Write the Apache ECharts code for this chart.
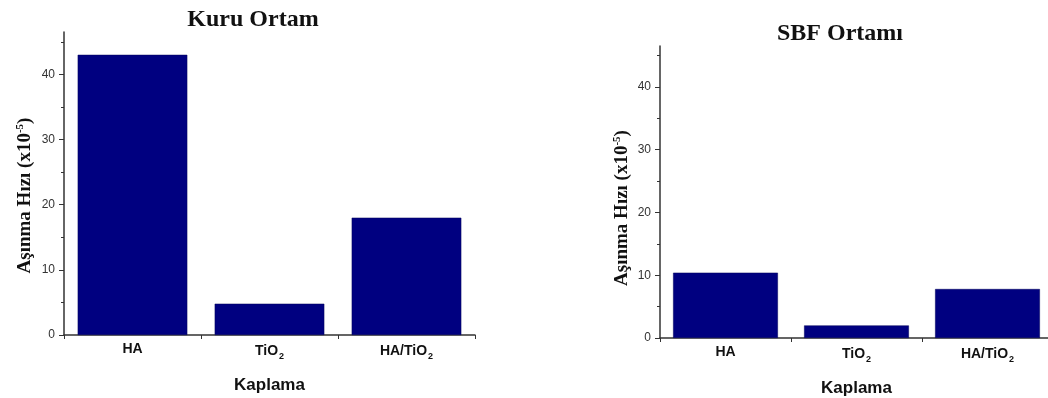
<!DOCTYPE html>
<html>
<head>
<meta charset="utf-8">
<script src="https://cdn.jsdelivr.net/npm/echarts@6/dist/echarts.min.js"></script>
<style>
  html, body { margin: 0; padding: 0; background: #ffffff; }
  #chart { width: 1048px; height: 398px; }
</style>
</head>
<body>
<div id="chart"></div>
<script>
// Coating types on the x axis (rich-text keys give TiO2 its subscript)
const categories = ['HA', 'TiO2', 'HA/TiO2'];
const categoryLabels = ['{b|HA}', '{b|TiO}{sub|2}', '{b|HA/TiO}{sub|2}'];

// Wear rate (x10^-5) for the dry and SBF environments
const dryValues = [43.0, 4.8, 18.0];
const sbfValues = [10.4, 2.0, 7.8];

// Y-axis tick labels and range
const yTicks = [0, 10, 20, 30, 40];
const yMax = 46.5;

const panelTitles = ['Kuru Ortam', 'SBF Ortamı'];
const xName = 'Kaplama';

const axisColor = '#333333';
const barColor = '#000080';

const chart = echarts.init(document.getElementById('chart'));

function xAxis(gridIndex) {
  return {
    type: 'category',
    gridIndex,
    data: categories,
    boundaryGap: true,
    axisLine: { lineStyle: { color: axisColor, width: 1.5 } },
    axisTick: { show: true, alignWithLabel: false, length: 4, lineStyle: { color: axisColor, width: 1 } },
    axisLabel: {
      margin: 7,
      formatter: (v, i) => categoryLabels[i],
      rich: {
        b: { fontFamily: 'Liberation Sans', fontWeight: 'bold', fontSize: 14, color: '#111111' },
        sub: { fontFamily: 'Liberation Sans', fontWeight: 'bold', fontSize: 9, color: '#111111', padding: [10, 0, 0, 1] }
      }
    },
    name: xName,
    nameLocation: 'middle',
    nameGap: 42,
    nameTextStyle: { fontFamily: 'Liberation Sans', fontWeight: 'bold', fontSize: 17, color: '#111111' }
  };
}

function yAxis(gridIndex, gap, shift) {
  return {
    type: 'value',
    gridIndex,
    min: 0,
    max: yMax,
    interval: 10,
    splitLine: { show: false },
    axisLine: { show: true, lineStyle: { color: axisColor, width: 1.5 } },
    axisTick: { show: true, length: 5, customValues: yTicks, lineStyle: { color: axisColor, width: 1 } },
    minorTick: { show: true, splitNumber: 2, length: 3, lineStyle: { color: axisColor, width: 1 } },
    axisLabel: {
      customValues: yTicks,
      margin: 9,
      fontFamily: 'Liberation Sans',
      fontSize: 12,
      color: '#333333'
    },
    name: '{a|Aşınma Hızı (x10}{sup|-5}{a|)}',
    nameLocation: 'middle',
    nameGap: gap,
    nameTextStyle: {
      padding: [0, shift, 0, 0],
      rich: {
        a: { fontFamily: 'Liberation Serif', fontWeight: 'bold', fontSize: 19, color: '#111111' },
        sup: { fontFamily: 'Liberation Serif', fontWeight: 'bold', fontSize: 11, color: '#111111', padding: [0, 0, 10, 0] }
      }
    }
  };
}

function barSeries(idx, values) {
  return {
    type: 'bar',
    xAxisIndex: idx,
    yAxisIndex: idx,
    data: values,
    barCategoryGap: '20%',
    itemStyle: { color: barColor, borderColor: '#00005a', borderWidth: 0.5 },
    silent: true
  };
}

chart.setOption({
  animation: false,
  backgroundColor: '#ffffff',
  title: [
    {
      text: panelTitles[0],
      left: 253, top: 8, textAlign: 'center', padding: 0,
      textStyle: { fontFamily: 'Liberation Serif', fontWeight: 'bold', fontSize: 24, lineHeight: 24, color: '#111111' }
    },
    {
      text: panelTitles[1],
      left: 840, top: 22, textAlign: 'center', padding: 0,
      textStyle: { fontFamily: 'Liberation Serif', fontWeight: 'bold', fontSize: 24, lineHeight: 24, color: '#111111' }
    }
  ],
  grid: [
    { left: 64, top: 32, width: 411, bottom: 63, outerBoundsMode: 'none' },
    { left: 660, top: 46, width: 393, bottom: 60, outerBoundsMode: 'none' }
  ],
  xAxis: [xAxis(0), xAxis(1)],
  yAxis: [yAxis(0, 28, 24), yAxis(1, 27, 32)],
  series: [barSeries(0, dryValues), barSeries(1, sbfValues)]
});
</script>
</body>
</html>
